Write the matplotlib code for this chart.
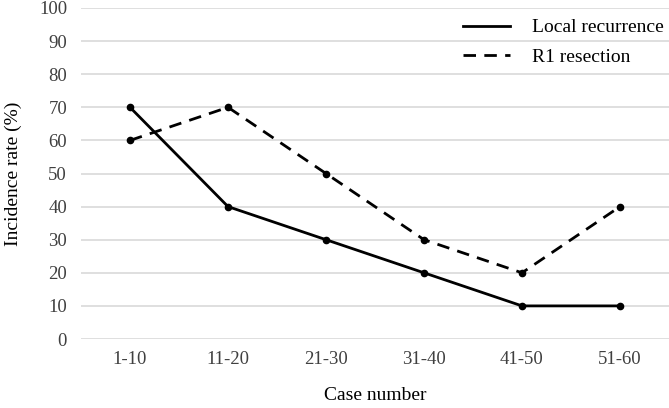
import numpy as np
import matplotlib.pyplot as plt
from matplotlib.lines import Line2D

plt.rcParams['font.family'] = ['Liberation Serif', 'DejaVu Serif']

# data
cases = ['1-10', '11-20', '21-30', '31-40', '41-50', '51-60']
local_recurrence = [70, 40, 30, 20, 10, 10]
r1_resection = [60, 70, 50, 30, 20, 40]

fig = plt.figure(figsize=(6.69, 4.08), dpi=100)
ax = fig.add_axes([81/669, 1 - 339/408, (669 - 81)/669, (339 - 8)/408])

x = np.arange(len(cases))
dash = (0, (4.5, 3))
ax.plot(x, local_recurrence, color='black', lw=2, marker='o', ms=4.5)
ax.plot(x, r1_resection, color='black', lw=2, ls=dash, marker='o', ms=4.5)

ax.set_xlim(-0.5, len(cases) - 0.5)
ax.set_ylim(0, 100)
ax.set_yticks(range(0, 101, 10))
ax.set_xticks(x)
ax.set_xticklabels(cases)
ax.yaxis.grid(True, color='#d9d9d9', lw=1.2)
ax.set_axisbelow(True)
for s in ax.spines.values():
    s.set_visible(False)
ax.tick_params(length=0, labelsize=13.5, colors='#404040', pad=9)
ax.tick_params(axis='y', pad=10)

ax.set_ylabel('Incidence rate (%)', fontsize=14, labelpad=12)
ax.set_xlabel('Case number', fontsize=14, labelpad=13)

handles = [Line2D([], [], color='black', lw=2),
           Line2D([], [], color='black', lw=2, ls=dash)]
ax.legend(handles, ['Local recurrence', 'R1 resection'], loc='upper right',
          bbox_to_anchor=(1.02, 1.02), frameon=False, fontsize=14,
          handlelength=2.4, handletextpad=1.1, labelspacing=0.6)

fig.savefig('out.png', dpi=100)
